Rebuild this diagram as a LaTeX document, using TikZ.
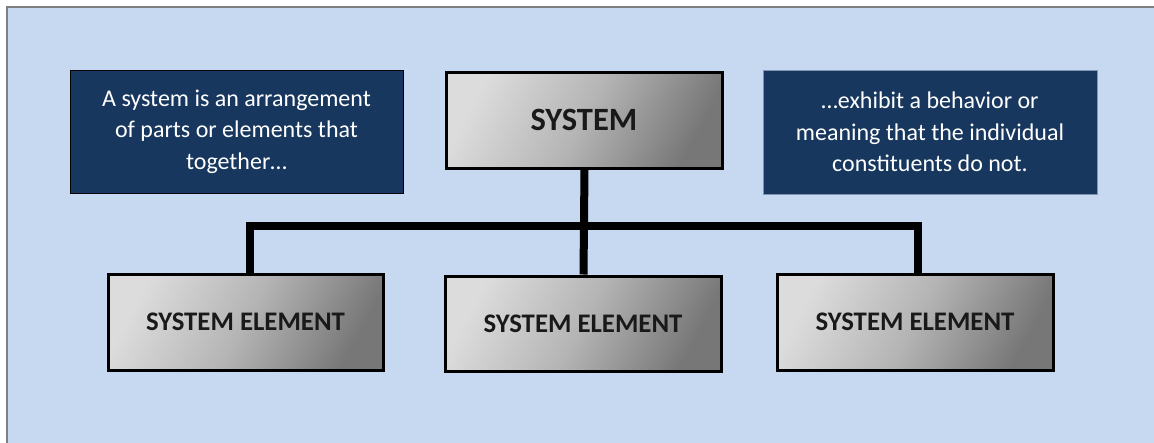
\documentclass[tikz,border=0pt]{standalone}
\usepackage{fontspec}
\setmainfont{Carlito}
\begin{document}
\begin{tikzpicture}[x=1pt,y=-1pt,
  boxline/.style={line width=3pt,draw=black},
  graybox/.style={boxline,rectangle,inner sep=0pt,
    top color=grayA,bottom color=grayB,middle color=grayM,shading angle=62,
    font=\fontsize{26.8}{30}\selectfont\bfseries,text=black!90},
  notebox/.style={rectangle,inner sep=0pt,fill=navy,text=white,align=center,
    minimum width=333pt,minimum height=123pt,
    font=\fontsize{24}{31.5}\selectfont},
  bar/.style={line width=8pt,draw=black,line join=miter,line cap=butt}]
\definecolor{bgblue}{HTML}{C6D9F1}
\definecolor{navy}{HTML}{17375E}
\definecolor{grayA}{HTML}{DCDCDC}
\definecolor{grayM}{HTML}{B4B4B4}
\definecolor{grayB}{HTML}{777777}
\definecolor{frame}{HTML}{7F7F7F}
\definecolor{edgeblue}{HTML}{7F93B5}
\useasboundingbox (0,0) rectangle (1154,442);
\fill[white] (0,0) rectangle (1154,442);
\begin{scope}
  \clip (0,0) rectangle (1154,442);
  \filldraw[fill=bgblue,draw=frame,line width=1.5pt] (7,7) rectangle (1170,460);
\end{scope}

% explanatory notes
\node[notebox,draw=black,line width=0.8pt] (ltext) at (236.5,131.5)
  {A system is an arrangement\\of parts or elements that\\together…};
\node[notebox,draw=edgeblue,line width=0.8pt,minimum width=334pt,minimum height=124pt] (rtext) at (930,132)
  {…exhibit a behavior or\\meaning that the individual\\constituents do not.};

% hierarchy
\node[graybox,minimum width=276pt,minimum height=96pt,font=\fontsize{32.5}{36}\selectfont\bfseries] (sys) at (584,120) {SYSTEM};
\node[graybox,minimum width=275pt,minimum height=96pt] (e1) at (245.5,322) {SYSTEM ELEMENT};
\node[graybox,minimum width=276pt,minimum height=95pt] (e2) at (583,323.5) {SYSTEM ELEMENT};
\node[graybox,minimum width=276pt,minimum height=96pt] (e3) at (915,322) {SYSTEM ELEMENT};

\coordinate (busL) at ([xshift=4pt]e1.north |- 0,226);
\coordinate (busR) at ([xshift=3pt]e3.north |- 0,226);
\draw[bar] ([xshift=4pt]e1.north) -- (busL) -- (busR) -- ([xshift=3pt]e3.north);
\draw[bar] ([xshift=0.5pt]sys.south) -- ([xshift=0.5pt]e2.north);
\end{tikzpicture}
\end{document}
